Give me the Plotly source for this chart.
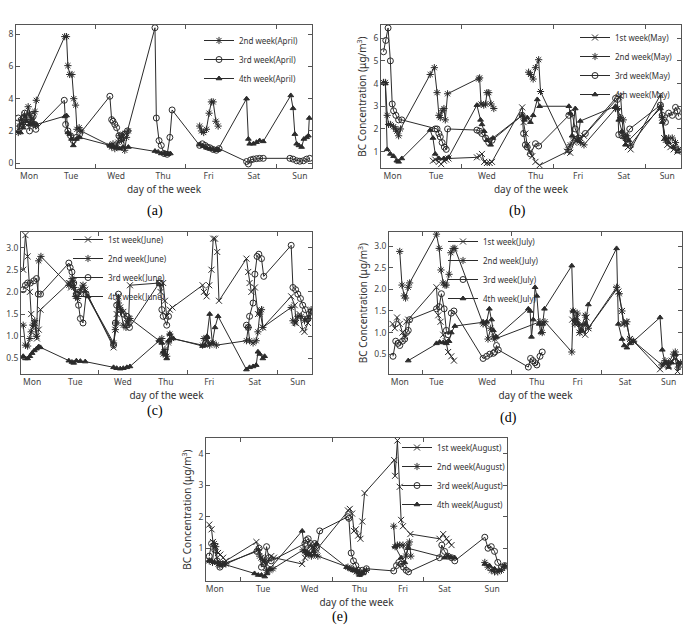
import plotly.graph_objects as go

DAYS = ["Mon", "Tue", "Wed", "Thu", "Fri", "Sat", "Sun"]

# ---------------- (a) April ----------------
A_TICKS = [0, 0.93, 1.93, 2.97, 3.98, 4.98, 6.0]
A_MINOR = [1.48, 3.47, 5.48]
A_NAMES = ["2nd week(April)", "3rd week(April)", "4th week(April)"]
A_W2_X = [-0.24, -0.21, -0.17, -0.13, -0.10, -0.06, -0.02, 0.01, 0.05, 0.09, 0.13, 0.16,
          0.79, 0.83, 0.86, 0.90, 0.95, 0.99, 1.03, 1.06, 1.11, 1.15,
          1.79, 1.83, 1.86, 1.90, 1.94, 1.97, 2.01, 2.05, 2.08, 2.12, 2.16, 2.20, None,
          3.78, 3.82, 3.87, 3.93, 3.99, 4.04, 4.08, 4.14, 4.19]
A_W2_Y = [1.9, 2.3, 2.7, 2.4, 3.0, 2.8, 3.5, 3.1, 2.7, 2.4, 3.2, 3.9,
          7.85, 7.85, 6.05, 5.5, 5.5, 4.0, 3.6, 2.1, 2.2, 2.0,
          1.1, 1.0, 1.2, 0.9, 1.0, 1.3, 1.7, 1.4, 1.8, 0.8, 1.6, 2.0, None,
          2.3, 2.0, 1.9, 2.1, 3.1, 3.8, 3.8, 2.6, 2.3]
A_W3_X = [-0.24, -0.19, -0.13, -0.10, -0.02, 0.01, 0.05, 0.09, 0.13, 0.15,
          0.78, 0.81, 0.86, 0.92, 0.98, 1.05, 1.12,
          1.79, 1.83, 1.86, 1.90, 1.94, 1.99, 2.05, 2.12, 2.18,
          2.79, 2.82, 2.88, 2.93, 2.99, 3.06, 3.12, 3.17,
          3.78, 3.84, 3.90, 3.95, 4.01, 4.08, 4.15, 4.21,
          4.82, 4.86, 4.91, 4.97, 5.04, 5.11, 5.19,
          5.78, 5.85, 5.93, 6.00, 6.08, 6.15, 6.22]
A_W3_Y = [2.8, 2.3, 2.8, 3.1, 2.5, 2.0, 3.0, 2.9, 2.4, 2.1,
          3.9, 2.4, 2.0, 1.7, 1.4, 1.6, 1.8,
          4.15, 2.7, 2.6, 2.4, 2.2, 1.7, 1.5, 1.8, 2.0,
          8.4, 2.8, 1.4, 1.1, 0.6, 0.55, 1.6, 3.3,
          1.1, 1.2, 1.1, 1.0, 0.95, 0.85, 0.8, 0.9,
          0.1, -0.05, 0.2, 0.25, 0.28, 0.3, 0.3,
          0.3, 0.25, 0.15, 0.12, 0.15, 0.25, 0.3]
A_W4_X = [-0.24, -0.19, -0.13, -0.06, 0.01, 0.09, 0.16,
          0.79, 0.83, 0.86, 0.90, 0.94, 0.98, 1.05, 1.12,
          1.79, 1.86, 1.94, 2.01, 2.08, 2.20,
          2.79, 2.86, 2.93, 3.01, 3.08, 3.13, None,
          3.78, 3.86, 3.93, 4.01, 4.08, 4.15, 4.19,
          4.82, 4.86, 4.89, 4.97, 5.04, 5.11, 5.19,
          5.80, 5.85, 5.89, 5.93, 5.98, 6.04, 6.09, 6.15, 6.19, 6.21]
A_W4_Y = [2.0, 1.9, 2.2, 2.6, 2.4, 2.5, 2.4,
          2.9, 2.95, 1.9, 1.8, 1.5, 1.1, 1.5, 1.6,
          1.1, 1.05, 1.0, 0.9, 1.0, 1.0,
          0.75, 0.7, 0.6, 0.6, 0.55, 0.6, None,
          1.15, 1.05, 0.95, 0.9, 0.85, 0.8, 0.85,
          4.0, 1.5, 1.2, 1.2, 1.3, 1.4, 1.35,
          4.2, 3.4, 1.8, 1.2, 1.1, 1.0, 1.5, 1.6, 1.7, 2.8]

# ---------------- (b) May ----------------
B_TICKS = [0, 0.95, 2.06, 3.13, 4.05, 5.05, 6.0]
B_MINOR = [1.50, 3.51, 5.52]
B_NAMES = ["1st week(May)", "2nd week(May)", "3rd week(May)", "4th week(May)"]
B_W1_X = [0.88, 0.93, 1.01, 1.06, 1.12, 1.17, 1.22,
          1.84, 1.90, 1.95, 2.00, 2.06, 2.12, 2.17,
          2.83, 2.86, 2.90, 2.94, 3.00, 3.05, 3.12, 3.21,
          3.81, 3.88, 3.96, 4.03, 4.10, 4.18,
          4.94, 4.98, 5.04, 5.09, 5.14, 5.20,
          5.85, 5.89, 5.93, 6.00, 6.07, 6.14, 6.22]
B_W1_Y = [0.6, 0.65, 0.55, 0.45, 0.6, 0.65, 0.7,
          0.75, 0.8, 0.9, 0.55, 0.5, 0.5, 0.55,
          2.95, 2.3, 1.8, 1.3, 1.0, 0.8, 0.55, 0.4,
          1.0, 0.95, 1.4, 1.5, 1.6, 1.7,
          3.4, 3.45, 1.7, 1.4, 1.2, 1.1,
          3.5, 2.5, 1.6, 1.3, 1.2, 1.1, 1.0]
B_W2_X = [-0.20, -0.16, -0.12, -0.09, -0.05, 0.02, 0.06, 0.09, 0.13, 0.17,
          0.82, 0.91, 0.97, 1.01, 1.04, 1.08, 1.12, 1.15, 1.20,
          1.88, 1.90, 1.93, 1.99, 2.03, 2.06, 2.10, 2.15, 2.21, None,
          2.97, 3.01, 3.07, 3.12, 3.19, 3.23,
          3.83, 3.88, 3.96, 4.03, 4.10, 4.18,
          4.87, 4.91, 4.98, 5.04, 5.09, 5.12, 5.20,
          5.85, 5.89, 5.96, 6.03, 6.11, 6.18, 6.25]
B_W2_Y = [4.05, 4.05, 2.6, 2.2, 2.2, 2.1, 2.0, 1.9, 1.7, 2.0,
          4.4, 4.7, 3.6, 2.6, 2.5, 2.8, 2.9, 2.4, 3.55,
          4.2, 4.25, 3.1, 3.05, 3.1, 3.6, 3.6, 3.1, 2.9, None,
          4.5, 4.4, 4.2, 4.7, 5.05, 3.65,
          1.1, 1.3, 1.6, 1.5, 1.4, 1.3,
          2.9, 2.9, 2.5, 2.4, 1.6, 1.7, 1.3,
          3.0, 2.5, 1.5, 1.6, 1.6, 1.4, 1.1]
B_W3_X = [-0.20, -0.15, -0.10, -0.05, -0.01, 0.02, 0.07, 0.13, 0.20,
          0.93, 0.97, 1.01, 1.04, 1.08, 1.13, 1.17, 1.20,
          1.84, 1.90, 1.95, 2.03, 2.10, 2.17,
          2.83, 2.86, 2.90, 2.94, 3.01, 3.12, 3.19,
          3.85, 3.92, 3.99, 4.07, 4.21,
          4.87, 4.91, 4.94, 5.01, 5.09, 5.18,
          5.85, 5.89, 5.96, 6.03, 6.11, 6.18, 6.22, 6.25]
B_W3_Y = [5.4, 5.9, 6.45, 5.0, 3.1, 2.8, 2.6, 2.4, 2.4,
          2.0, 2.0, 1.8, 1.65, 1.4, 1.2, 1.1, 2.0,
          1.95, 1.9, 1.8, 1.6, 1.4, 1.5,
          2.6, 1.8, 1.3, 1.2, 0.9, 1.35, 1.25,
          2.6, 2.7, 2.0, 1.6, 1.8,
          3.35, 3.3, 1.75, 1.7, 1.65, 2.0,
          3.05, 2.6, 2.3, 2.7, 2.6, 2.95, 2.8, 2.55]
B_W4_X = [-0.16, -0.12, -0.05, 0.02, 0.09, 0.13, 0.20,
          0.82, 0.88, 0.93, 1.01, 1.12, 1.22,
          1.84, 1.92, 1.95, 2.00, 2.06, 2.14, 2.19,
          2.83, 2.88, 2.94, 3.01, 3.07, 3.16, 3.21,
          3.85, 3.88, 3.92, 3.99, 4.05, 4.10,
          4.87, 4.91, 4.94, 5.01, 5.09, 5.16,
          5.85, 5.89, 5.96, 6.03, 6.14, 6.23]
B_W4_Y = [4.0, 1.1, 0.9, 0.8, 0.6, 0.55, 0.7,
          1.95, 1.6, 0.9, 0.7, 0.7, 0.75,
          3.05, 2.4, 2.2, 1.9, 1.5, 1.3, 1.6,
          2.6, 2.4, 2.5, 2.3, 2.6, 3.3, 3.0,
          3.0, 2.7, 1.7, 2.9, 1.5, 2.35,
          3.0, 2.9, 2.4, 1.9, 1.3, 1.5,
          2.9, 2.3, 1.6, 1.4, 1.2, 1.0]

# ---------------- (c) June ----------------
C_TICKS = [0, 0.975, 2.05, 3.02, 4.0, 5.03, 6.0]
C_MINOR = [1.49, 3.52, 5.53]
C_NAMES = ["1st week(June)", "2nd week(June)", "3rd week(June)", "4th week(June)"]
C_W1_X = [-0.20, -0.15, -0.10, -0.05, -0.02, 0.02, 0.06, 0.10, 0.11, 0.15, 0.19,
          0.83, 0.88, 0.94, 1.00, 1.09, 1.16, 1.20,
          1.84, 1.88, 1.91, 1.95, 1.99, 2.06, 2.14, 2.18, 2.21,
          2.87, 2.90, 2.96, 3.00, 3.04, 3.11, 3.17,
          3.85, 3.88, 3.94, 4.00, 4.05, 4.09, 4.13, 4.18, 4.22,
          4.84, 4.88, 4.91, 4.95, 5.03, 5.10, 5.14, 5.21,
          5.85, 5.93, 5.96, 6.04, 6.11, 6.15, 6.23, 6.30]
C_W1_Y = [2.5, 3.28, 2.8, 2.0, 1.5, 1.2, 1.3, 1.0, 0.95, 1.15, 1.6,
          2.2, 2.1, 2.25, 2.0, 1.95, 2.15, 2.05,
          0.75, 1.15, 1.5, 1.9, 1.65, 1.55, 1.3, 1.4, 2.15,
          2.2, 2.0, 2.2, 1.8, 1.45, 1.6, 1.65,
          2.15, 2.0, 1.9, 2.15, 2.5, 3.2, 3.2, 2.9, 1.8,
          2.75, 2.45, 2.2, 2.0, 2.1, 1.5, 1.6, 1.2,
          1.9, 1.7, 1.3, 1.5, 1.15, 1.1, 1.3, 1.5]
C_W2_X = [-0.20, -0.15, -0.10, -0.05, -0.02, 0.02, 0.06, 0.10, 0.15, 0.20,
          0.83, 0.86, 0.90, 0.94, 0.98, 1.03, 1.09, 1.15, 1.20,
          1.84, 1.88, 1.91, 1.95, 2.00, 2.06, 2.12, 2.18, 2.21,
          2.87, 2.93, 2.96, 3.00, 3.04, 3.08, 3.11, 3.15,
          3.85, 3.88, 3.94, 3.98, 4.01, 4.09, 4.16,
          4.84, 4.88, 4.91, 4.99, 5.06, 5.10, 5.14, 5.18, 5.21,
          5.85, 5.89, 5.93, 6.00, 6.08, 6.15, 6.23, 6.30]
C_W2_Y = [1.25, 0.8, 0.78, 0.95, 1.1, 1.25, 1.35, 1.0, 2.7, 2.8,
          2.15, 2.2, 2.3, 2.1, 1.9, 1.85, 2.05, 2.15, 2.0,
          0.85, 1.15, 1.3, 1.75, 1.6, 1.25, 1.2, 1.3, 1.4,
          0.9, 0.95, 0.6, 0.7, 0.55, 0.85, 1.05, 0.95,
          0.8, 0.95, 0.95, 0.85, 0.8, 0.85, 0.8,
          0.9, 1.2, 0.9, 0.85, 0.9, 1.1, 1.5, 1.6, 1.2,
          1.65, 1.35, 1.3, 1.45, 1.45, 1.35, 1.4, 1.6]
C_W3_X = [-0.20, -0.15, -0.10, -0.04, 0.04, 0.10, 0.14, 0.19,
          0.83, 0.86, 0.90, 0.94, 1.00, 1.05, 1.09, 1.15, 1.22,
          1.84, 1.88, 1.91, 1.95, 1.99, 2.06, 2.14, 2.20,
          2.87, 2.90, 2.93, 2.96, 3.04, 3.08, None,
          4.84, 4.88, 4.91, 4.99, 5.03, 5.08, 5.12, 5.18, 5.23,
          5.85, 5.89, 5.95, 6.00, 6.06, 6.11, 6.17, 6.23, 6.30]
C_W3_Y = [2.05, 2.15, 2.2, 2.2, 2.25, 2.3, 1.95, 1.95,
          2.65, 2.55, 2.45, 2.2, 1.95, 1.7, 1.4, 1.3, 1.95,
          0.8, 1.3, 1.7, 1.95, 1.6, 1.5, 1.45, 1.2,
          2.2, 2.2, 1.6, 1.45, 1.25, 1.45, None,
          1.25, 1.2, 1.45, 1.75, 2.4, 2.8, 2.85, 2.75, 2.35,
          3.05, 2.1, 2.05, 1.95, 1.85, 1.7, 1.6, 1.4, 1.55]
C_W4_X = [-0.20, -0.15, -0.10, -0.05, 0.0, 0.05, 0.10, 0.15, 0.19,
          0.83, 0.90, 0.94, 1.00, 1.09, 1.20,
          1.84, 1.91, 1.99, 2.06, 2.14, 2.21,
          2.87, 2.93, 2.96, 3.00, 3.04, 3.08, 3.11, 3.19,
          3.85, 3.90, 3.95, 4.01, 4.07, 4.13, 4.20,
          4.84, 4.91, 4.99, 5.06, 5.10, 5.14, 5.21, 5.25]
C_W4_Y = [0.55, 0.5, 0.5, 0.55, 0.62, 0.68, 0.72, 0.77, 0.75,
          0.45, 0.42, 0.4, 0.45, 0.44, 0.43,
          0.3, 0.28, 0.27, 0.28, 0.3, 0.32,
          0.9, 0.85, 0.65, 0.6, 0.5, 0.9, 1.05, 0.95,
          0.78, 0.8, 1.0, 1.5, 0.85, 1.2, 1.45,
          0.25, 0.3, 0.32, 0.35, 0.65, 0.6, 0.5, 0.55]

# ---------------- (d) July ----------------
D_TICKS = [0, 0.82, 1.95, 3.06, 3.97, 5.03, 6.0]
D_MINOR = [0.51, 2.50, 4.50]
D_NAMES = ["1st week(July)", "2nd week(July)", "3rd week(July)", "4th week(July)"]
D_W1_X = [-0.16, -0.11, -0.06, 0.0, 0.06, 0.11, 0.15, 0.19,
          0.82, 0.86, 0.91, 0.97, 1.03, 1.08, 1.15, 1.21, None,
          3.85, 3.91, 3.96, 4.01, 4.06, 4.14, 4.17, 4.21,
          4.84, 4.88, 4.96, 4.99, 5.05, 5.14, 5.22,
          5.81, 5.89, 5.96, 6.00, 6.07, 6.15, 6.20, 6.26]
D_W1_Y = [1.2, 1.1, 1.35, 1.2, 1.0, 0.9, 1.25, 1.3,
          2.05, 1.4, 1.25, 0.95, 0.8, 0.55, 0.45, 0.35, None,
          1.3, 1.2, 1.35, 1.0, 1.2, 0.95, 1.35, 1.1,
          2.0, 1.95, 1.5, 1.2, 1.25, 0.85, 0.8,
          0.15, 0.25, 0.3, 0.2, 0.35, 0.4, 0.1, 0.3]
D_W2_X = [0.0, 0.05, 0.10, 0.13, 0.19, 0.22,
          0.82, 0.88, 0.92, 0.97, 1.01, 1.04, 1.10, 1.14, 1.19, 1.23,
          1.86, 1.92, 1.97, 2.03, 2.09, 2.12,
          3.13, 3.18, 3.24,
          3.84, 3.87, 3.91, 3.96, 4.02, 4.14, 4.21,
          4.84, 4.90, 4.96, 5.01, 5.07, 5.13, 5.22,
          5.85, 5.92, 6.00, 6.11, 6.15, 6.22, 6.27]
D_W2_Y = [2.88, 2.1, 1.85, 1.8, 2.05, 2.15,
          3.28, 2.95, 2.45, 2.15, 2.1, 2.1, 2.35, 2.85, 2.95, 2.95,
          1.2, 1.2, 0.85, 1.1, 0.9, 0.85,
          1.25, 1.0, 1.25,
          0.55, 1.5, 1.2, 1.45, 1.0, 1.4, 1.1,
          2.05, 1.9, 1.5, 1.2, 1.25, 0.85, 0.8,
          0.25, 0.35, 0.3, 0.5, 0.55, 0.2, 0.3]
D_W3_X = [-0.15, -0.09, -0.04, 0.0, 0.06, 0.11, 0.15, 0.19, 0.22,
          0.82, 0.88, 0.93, 0.99, 1.04, 1.08, 1.15, 1.21,
          1.86, 1.94, 2.01, 2.09, 2.12, 2.16, 2.20,
          2.87, 2.92, 2.97, 3.02, 3.06, 3.13, 3.18]
D_W3_Y = [0.45, 0.8, 0.75, 0.7, 0.8, 0.85, 1.0, 1.05, 1.3,
          1.55, 1.6, 1.9, 1.55, 1.05, 0.95, 1.45, 1.5,
          0.4, 0.45, 0.5, 0.52, 0.55, 0.7, 0.6,
          0.2, 0.4, 0.35, 0.3, 0.25, 0.45, 0.55]
D_W4_X = [0.19,
          0.82, 0.89, 0.97, 1.04, 1.10, 1.15, 1.23,
          1.86, 1.94, 2.00, 2.05, 2.09, 2.16,
          2.87, 2.91, 2.94, 2.98, 3.02, 3.06, 3.11, 3.15, 3.19, 3.23,
          3.84, 3.87, 3.91, 3.99, 4.06, 4.14, 4.21,
          4.84, 4.88, 4.96, 5.01, 5.07, 5.14, 5.22,
          5.81, 5.86, 5.92, 6.00, 6.07, 6.15, 6.22]
D_W4_Y = [0.35,
          0.75, 0.78, 0.77, 0.75, 0.8, 1.0, 1.15,
          1.25, 1.25, 1.55, 1.3, 1.05, 0.9,
          1.55, 1.5, 0.9, 1.3, 2.05, 1.85, 1.2, 1.0, 1.2, 1.55,
          2.55, 1.5, 1.3, 1.2, 1.05, 1.2, 1.65,
          2.95, 1.2, 0.85, 0.7, 0.65, 0.75, 0.8,
          1.35, 0.6, 0.3, 0.2, 0.3, 0.5, 0.3]

# ---------------- (e) August ----------------
E_TICKS = [0, 1.045, 2.05, 3.13, 4.07, 4.97, 6.0]
E_MINOR = [0.555, 2.54, 4.52]
E_NAMES = ["1st week(August)", "2nd week(August)", "3rd week(August)", "4th week(August)"]
E_W1_X = [-0.12, -0.07, -0.04, 0.01, 0.07, 0.12, 0.18, 0.24,
          0.90, 0.96, 1.01, 1.06, 1.12, 1.17, 1.22, 1.28,
          1.89, 1.95, 2.00, 2.05, 2.13, 2.20,
          2.88, 2.92, 2.97, 3.01, 3.05, 3.10, 3.15, 3.19, 3.24,
          3.88, 3.90, 3.95, 4.00, 4.03, 4.07, 4.23,
          4.86, 4.94, 5.01, 5.06, 5.12]
E_W1_Y = [1.75, 1.6, 1.2, 1.05, 0.85, 0.8, 0.7, 0.6,
          1.2, 0.9, 0.7, 0.55, 0.5, 0.65, 0.75, 0.7,
          0.5, 0.7, 0.95, 1.1, 1.05, 0.95,
          2.2, 2.25, 2.1, 1.55, 1.6, 1.4, 1.3, 1.85, 2.75,
          3.8, 3.3, 4.42, 2.95, 1.9, 1.7, 1.45,
          1.3, 1.45, 1.3, 1.2, 1.1]
E_W2_X = [-0.12, -0.05, -0.01, 0.02, 0.07, 0.11, 0.17, 0.24,
          0.94, 0.97, 1.03, 1.08, 1.12, 1.19, 1.26,
          1.91, 1.97, 2.02, 2.09, 2.16, 2.23,
          2.88, 2.95, 3.03, 3.06, 3.13, 3.21, 3.28, None,
          3.87, 3.90, 3.95, 4.00, 4.07, 4.13, 4.18, 4.21, 4.24, None,
          5.84, 5.91, 5.98, 6.05, 6.12, 6.20, 6.27]
E_W2_Y = [0.6, 0.55, 1.15, 1.05, 0.5, 0.45, 0.5, 0.5,
          0.95, 0.75, 0.65, 0.6, 0.3, 0.3, 0.35,
          0.95, 0.85, 0.8, 0.75, 0.8, 0.75,
          0.4, 0.35, 0.3, 0.25, 0.2, 0.25, 0.3, None,
          1.7, 1.05, 1.1, 1.1, 1.1, 0.75, 1.1, 1.2, 0.75, None,
          0.55, 0.4, 0.3, 0.25, 0.25, 0.3, 0.4]
E_W3_X = [-0.12, -0.07, 0.0, 0.05, 0.11, 0.18,
          0.91, 0.96, 1.01, 1.07, 1.12, 1.17, 1.22,
          1.95, 1.98, 2.02, 2.07, 2.11, 2.16, 2.20, 2.27,
          2.88, 2.90, 2.95, 3.00, 3.05, 3.10, 3.15, 3.19, 3.28,
          3.87, 3.93, 3.98, 4.03, 4.08, 4.14, 4.19,
          4.86, 4.91, 4.97, 5.04, 5.12, 5.19,
          5.84, 5.91, 5.98, 6.05, 6.12, 6.20, 6.27]
E_W3_Y = [0.75, 1.15, 0.95, 0.6, 0.4, 0.5,
          0.9, 1.0, 0.4, 0.5, 1.05, 0.7, 0.6,
          1.15, 1.25, 1.3, 1.15, 0.9, 1.15, 1.0, 1.55,
          2.0, 1.95, 0.85, 0.6, 0.45, 0.3, 0.2, 0.3, 0.35,
          0.28, 0.45, 0.55, 0.5, 0.4, 0.3, 0.25,
          0.7, 1.1, 0.9, 0.75, 0.7, 0.6,
          1.35, 1.0, 1.05, 0.9, 0.55, 0.4, 0.45]
E_W4_X = [-0.12, -0.07, 0.0, 0.07, 0.11, 0.18,
          0.86, 0.94, 1.01, 1.08, 1.13, 1.19,
          1.89, 1.95, 2.00, 2.05, 2.13, 2.20,
          2.85, 2.92, 2.99, 3.06, 3.13, 3.21, None,
          3.90, 4.03, 4.11, 4.18,
          4.97, 5.04, 5.12, 5.19, None,
          5.84, 5.94, 6.05, 6.16, 6.27]
E_W4_Y = [0.6, 0.6, 0.55, 0.55, 0.5, 0.5,
          0.2, 0.15, 0.15, 0.1, 0.2, 0.35,
          1.55, 0.9, 0.85, 0.8, 0.9, 1.15,
          0.4, 0.35, 0.3, 0.3, 0.15, 0.2, None,
          1.05, 0.7, 0.55, 1.0,
          0.7, 0.75, 0.7, 0.7, None,
          0.5, 0.45, 0.35, 0.3, 0.45]

# ---------------- styling ----------------
INK = "#2b2b2b"
FRAME = "#555555"
TICKFONT = dict(family="Noto Sans", size=8.5, color="#444444")
SYMBOL = {"1st": "x-thin-open", "2nd": "asterisk-open", "3rd": "circle-open", "4th": "triangle-up"}

W, H = 683, 626


def px_x(p):
    return p / W


def px_y(p):
    return 1 - p / H


panels = [
    dict(key="a", names=A_NAMES, series=[(A_W2_X, A_W2_Y), (A_W3_X, A_W3_Y), (A_W4_X, A_W4_Y)],
         ticks=A_TICKS, minor=A_MINOR, xr=[-0.29, 6.27], yr=[-0.3, 8.57], yt=[0, 2, 4, 6, 8], yf="",
         dom=(16, 312, 25, 168), ytitle=False, leg=(199, 26), lab=(155, 211)),
    dict(key="b", names=B_NAMES, series=[(B_W1_X, B_W1_Y), (B_W2_X, B_W2_Y), (B_W3_X, B_W3_Y), (B_W4_X, B_W4_Y)],
         ticks=B_TICKS, minor=B_MINOR, xr=[-0.255, 6.30], yr=[0.28, 6.58], yt=[1, 2, 3, 4, 5, 6], yf="",
         dom=(381, 681, 25, 168), ytitle=True, leg=(575, 23), lab=(517, 211)),
    dict(key="c", names=C_NAMES, series=[(C_W1_X, C_W1_Y), (C_W2_X, C_W2_Y), (C_W3_X, C_W3_Y), (C_W4_X, C_W4_Y)],
         ticks=C_TICKS, minor=C_MINOR, xr=[-0.25, 6.32], yr=[0.15, 3.35], yt=[0.5, 1.0, 1.5, 2.0, 2.5, 3.0], yf=".1f",
         dom=(21, 312, 232, 374), ytitle=False, leg=(68, 225), lab=(155, 411)),
    dict(key="d", names=D_NAMES, series=[(D_W1_X, D_W1_Y), (D_W2_X, D_W2_Y), (D_W3_X, D_W3_Y), (D_W4_X, D_W4_Y)],
         ticks=D_TICKS, minor=D_MINOR, xr=[-0.24, 6.30], yr=[0.04, 3.33], yt=[0.5, 1.0, 1.5, 2.0, 2.5, 3.0], yf=".1f",
         dom=(389, 682, 232, 374), ytitle=True, leg=(443, 227), lab=(508, 418)),
    dict(key="e", names=E_NAMES, series=[(E_W1_X, E_W1_Y), (E_W2_X, E_W2_Y), (E_W3_X, E_W3_Y), (E_W4_X, E_W4_Y)],
         ticks=E_TICKS, minor=E_MINOR, xr=[-0.19, 6.32], yr=[-0.04, 4.5], yt=[1, 2, 3, 4], yf="",
         dom=(206, 507, 438, 581), ytitle=True, leg=(397, 433), lab=(340, 617)),
]

fig = go.Figure()
layout = dict(width=W, height=H, margin=dict(l=0, r=0, t=0, b=0),
              paper_bgcolor="white", plot_bgcolor="white", showlegend=True)
annotations = []

for i, p in enumerate(panels):
    n = i + 1
    xa = "x" if n == 1 else f"x{n}"
    ya = "y" if n == 1 else f"y{n}"
    leg = "legend" if n == 1 else f"legend{n}"
    for name, (xs, ys) in zip(p["names"], p["series"]):
        sym = SYMBOL[name[:3]]
        fig.add_trace(go.Scatter(
            x=xs, y=ys, name=name, mode="lines+markers", xaxis=xa, yaxis=ya, legend=leg,
            line=dict(color=INK, width=1),
            marker=dict(symbol=sym, size=6 if sym != "triangle-up" else 5, color=INK,
                        line=dict(color=INK, width=1)),
            connectgaps=False,
        ))
    l, r, t, b = p["dom"]
    xkey = "xaxis" if n == 1 else f"xaxis{n}"
    ykey = "yaxis" if n == 1 else f"yaxis{n}"
    layout[xkey] = dict(
        domain=[px_x(l), px_x(r)], anchor=ya, range=p["xr"],
        tickmode="array", tickvals=p["ticks"], ticktext=DAYS, ticks="",
        minor=dict(tickmode="array", tickvals=p["minor"], ticks="inside", ticklen=4, tickcolor=FRAME),
        showline=True, linecolor=FRAME, linewidth=1, mirror="ticks", showgrid=False, zeroline=False,
        tickfont=TICKFONT,
        title=dict(text="day of the week", font=dict(family="Noto Sans", size=10, color="#333333"), standoff=5),
    )
    ydict = dict(
        domain=[px_y(b), px_y(t)], anchor=xa, range=p["yr"],
        tickmode="array", tickvals=p["yt"], ticks="inside", ticklen=4, tickcolor=FRAME,
        showline=True, linecolor=FRAME, linewidth=1, mirror="ticks", showgrid=False, zeroline=False,
        tickfont=TICKFONT, tickformat=p["yf"],
    )
    if p["ytitle"]:
        ydict["title"] = dict(text="BC Concentration (μg/m<sup>3</sup>)",
                              font=dict(family="Noto Sans", size=10, color="#333333"), standoff=4)
    layout[ykey] = ydict
    lx, ly = p["leg"]
    layout[leg] = dict(x=px_x(lx), y=px_y(ly), xanchor="left", yanchor="top",
                       bgcolor="rgba(0,0,0,0)", itemwidth=30, tracegroupgap=0,
                       font=dict(family="Noto Sans", size=8, color="#333333"))
    ax, ay = p["lab"]
    annotations.append(dict(text=f"({p['key']})", x=px_x(ax), y=px_y(ay), xref="paper", yref="paper",
                            showarrow=False, xanchor="center", yanchor="middle",
                            font=dict(family="Liberation Serif", size=14, color="black")))

layout["annotations"] = annotations
fig.update_layout(**layout)
fig.write_html("out.html")
